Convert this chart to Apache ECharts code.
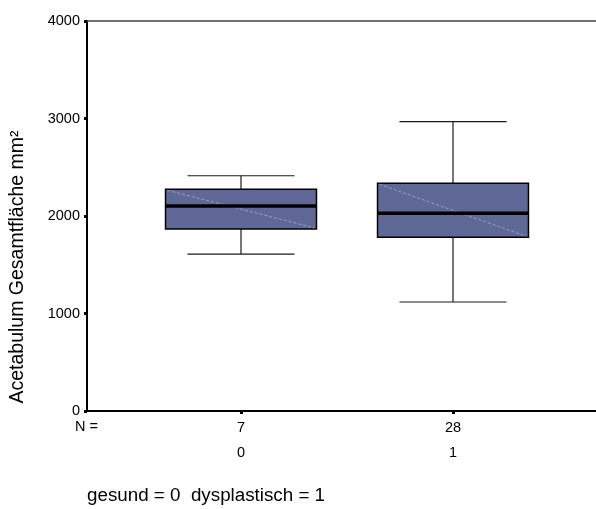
<!DOCTYPE html>
<html>
<head>
<meta charset="utf-8">
<script src="https://cdn.jsdelivr.net/npm/echarts@6/dist/echarts.min.js"></script>
<style>html,body{margin:0;padding:0;background:#fff}#c{width:596px;height:509px}</style>
</head>
<body>
<div id="c"></div>
<script>
// Data
const categories = ['0', '1'];
const nCounts = ['7', '28'];
// [lowerWhisker, Q1, median, Q3, upperWhisker]
const group0 = [1610, 1867, 2103, 2274, 2413];
const group1 = [1118, 1781, 2028, 2335, 2967];
const yTicks = [0, 1000, 2000, 3000, 4000];
const yTitle = 'Acetabulum Gesamtfläche mm²';
const footer = 'gesund = 0  dysplastisch = 1';

const boxes = [group0, group1];
const data = boxes.map((b, i) => [i].concat(b));

const chart = echarts.init(document.getElementById('c'));
const FONT = 'Liberation Sans, Arial, sans-serif';
const BOX_W = 0.712;   // in category units
const CAP_W = 0.505;

chart.setOption({
  animation: false,
  grid: { left: 87, top: 21, right: 0, bottom: 98 },
  xAxis: [{
    type: 'value', min: -0.7264, max: 1.6745,
    splitLine: { show: false },
    axisLine: { show: true, onZero: false, lineStyle: { color: '#000', width: 2 } },
    axisTick: { show: true, customValues: [0, 1], length: 3, lineStyle: { color: '#000', width: 3 } },
    axisLabel: {
      customValues: [0, 1],
      margin: 4,
      fontFamily: FONT, fontSize: 14.5, color: '#000', lineHeight: 25,
      formatter: v => nCounts[Math.round(v)] + '\n' + categories[Math.round(v)]
    }
  }, {
    type: 'value', min: -0.7264, max: 1.6745, position: 'top',
    splitLine: { show: false },
    axisLine: { show: true, onZero: false, lineStyle: { color: '#444', width: 1.5 } },
    axisTick: { show: false }, axisLabel: { show: false }
  }],
  yAxis: {
    type: 'value', min: 0, max: 4000, interval: 1000,
    splitLine: { show: false },
    axisLine: { show: true, onZero: false, lineStyle: { color: '#000', width: 2 } },
    axisTick: { show: true, length: 3, lineStyle: { color: '#000', width: 3 } },
    axisLabel: { margin: 7, fontFamily: FONT, fontSize: 14.5, color: '#000',
      formatter: v => yTicks.includes(v) ? String(v) : '' }
  },
  graphic: [
    { type: 'text', x: 18, y: 267, rotation: Math.PI / 2,
      style: { text: yTitle, font: '19.5px ' + FONT, fill: '#000', align: 'center', verticalAlign: 'middle' } },
    { type: 'text', left: 75, top: 419, style: { text: 'N =', font: '14.5px ' + FONT, fill: '#000' } },
    { type: 'text', left: 87, top: 486, style: { text: footer, font: '18.8px ' + FONT, fill: '#000' } }
  ],
  series: [{
    type: 'custom',
    data: data,
    encode: { x: 0, y: [1, 2, 3, 4, 5] },
    renderItem: function (params, api) {
      const x = api.value(0);
      const lo = api.coord([x, api.value(1)]);
      const q1 = api.coord([x, api.value(2)]);
      const med = api.coord([x, api.value(3)]);
      const q3 = api.coord([x, api.value(4)]);
      const hi = api.coord([x, api.value(5)]);
      const bw = api.size([BOX_W, 0])[0];
      const cw = api.size([CAP_W, 0])[0];
      const cx = lo[0];
      const left = cx - bw / 2, right = cx + bw / 2;
      const lineStyle = { stroke: '#1a1a1a', lineWidth: 1.2 };
      return {
        type: 'group',
        children: [
          { type: 'line', shape: { x1: cx, y1: hi[1], x2: cx, y2: q3[1] }, style: lineStyle },
          { type: 'line', shape: { x1: cx, y1: lo[1], x2: cx, y2: q1[1] }, style: lineStyle },
          { type: 'line', shape: { x1: cx - cw / 2, y1: hi[1], x2: cx + cw / 2, y2: hi[1] }, style: lineStyle },
          { type: 'line', shape: { x1: cx - cw / 2, y1: lo[1], x2: cx + cw / 2, y2: lo[1] }, style: lineStyle },
          { type: 'rect', shape: { x: left, y: q3[1], width: bw, height: q1[1] - q3[1] },
            style: { fill: '#5f6896', stroke: '#000', lineWidth: 1.5 } },
          { type: 'line', shape: { x1: left + 2, y1: q3[1] + 1, x2: right - 2, y2: q1[1] - 1 },
            style: { stroke: 'rgba(190,196,230,0.75)', lineWidth: 0.8, lineDash: [3, 2] } },
          { type: 'line', shape: { x1: left, y1: med[1], x2: right, y2: med[1] },
            style: { stroke: '#000', lineWidth: 3.5 } }
        ]
      };
    }
  }]
});
</script>
</body>
</html>
